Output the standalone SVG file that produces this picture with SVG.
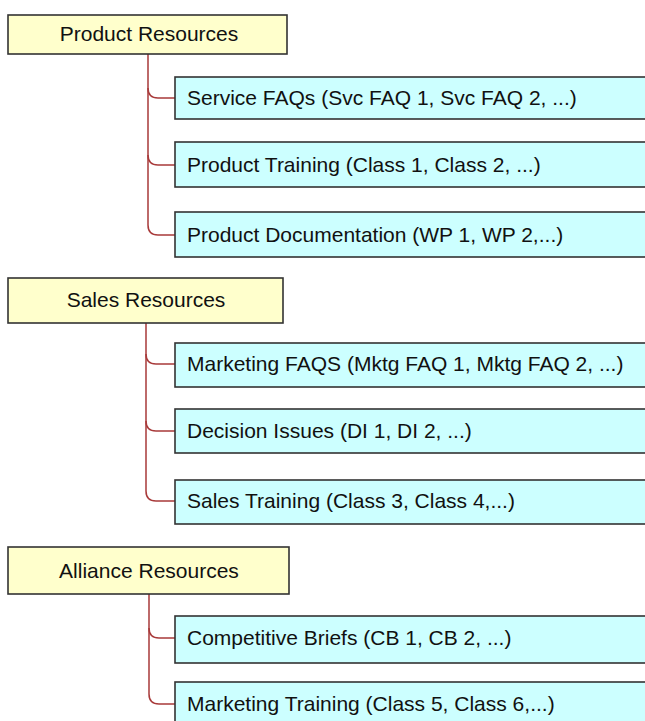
<svg xmlns="http://www.w3.org/2000/svg" width="645" height="721" viewBox="0 0 645 721">
<style>
.parent{fill:#FFFFCC;stroke:#333333;stroke-width:1.6}
.child{fill:#CCFFFF;stroke:#333333;stroke-width:1.6}
.ptext{font-family:"Liberation Sans",Arial,sans-serif;font-size:21px;fill:#111111;text-anchor:middle}
.ctext{font-family:"Liberation Sans",Arial,sans-serif;font-size:21px;fill:#111111}
.conn{fill:none;stroke:#A83A3A;stroke-width:1.5}
</style>
<rect width="645" height="721" fill="#FFFFFF"/>
<g id="connectors">
<path class="conn" d="M148,54 V225 Q148,235 158,235 H175"/>
<path class="conn" d="M148,88 Q148,98 158,98 H175"/>
<path class="conn" d="M148,155 Q148,165 158,165 H175"/>
<path class="conn" d="M146,323 V491 Q146,501 156,501 H175"/>
<path class="conn" d="M146,354 Q146,364 156,364 H175"/>
<path class="conn" d="M146,421 Q146,431 156,431 H175"/>
<path class="conn" d="M149,594 V694 Q149,704 159,704 H175"/>
<path class="conn" d="M149,628 Q149,638 159,638 H175"/>
</g>
<g id="product-resources">
<rect class="parent" x="8" y="15" width="279" height="39"/>
<text class="ptext" x="149" y="41">Product Resources</text>
</g>
<g id="service-faqs">
<rect class="child" x="175" y="77" width="480" height="42"/>
<text class="ctext" x="187" y="105">Service FAQs (Svc FAQ 1, Svc FAQ 2, ...)</text>
</g>
<g id="product-training">
<rect class="child" x="175" y="142" width="480" height="45"/>
<text class="ctext" x="187" y="172">Product Training (Class 1, Class 2, ...)</text>
</g>
<g id="product-documentation">
<rect class="child" x="175" y="212" width="480" height="45"/>
<text class="ctext" x="187" y="242">Product Documentation (WP 1, WP 2,...)</text>
</g>
<g id="sales-resources">
<rect class="parent" x="8" y="278" width="275" height="45"/>
<text class="ptext" x="146" y="307">Sales Resources</text>
</g>
<g id="marketing-faqs">
<rect class="child" x="175" y="343" width="480" height="44"/>
<text class="ctext" x="187" y="371">Marketing FAQS (Mktg FAQ 1, Mktg FAQ 2, ...)</text>
</g>
<g id="decision-issues">
<rect class="child" x="175" y="409" width="480" height="44"/>
<text class="ctext" x="187" y="438">Decision Issues (DI 1, DI 2, ...)</text>
</g>
<g id="sales-training">
<rect class="child" x="175" y="480" width="480" height="44"/>
<text class="ctext" x="187" y="508">Sales Training (Class 3, Class 4,...)</text>
</g>
<g id="alliance-resources">
<rect class="parent" x="8" y="547" width="281" height="47"/>
<text class="ptext" x="149" y="578">Alliance Resources</text>
</g>
<g id="competitive-briefs">
<rect class="child" x="175" y="616" width="480" height="47"/>
<text class="ctext" x="187" y="645">Competitive Briefs (CB 1, CB 2, ...)</text>
</g>
<g id="marketing-training">
<rect class="child" x="175" y="682" width="480" height="47"/>
<text class="ctext" x="187" y="711">Marketing Training (Class 5, Class 6,...)</text>
</g>
</svg>
